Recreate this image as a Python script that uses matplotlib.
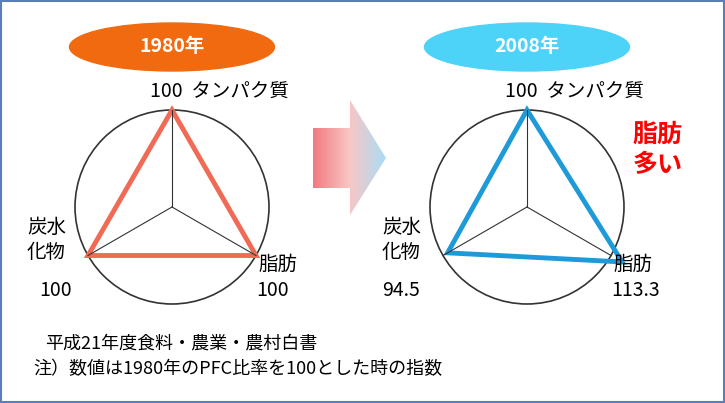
import numpy as np
import matplotlib
matplotlib.use("Agg")
import matplotlib.pyplot as plt
from matplotlib.patches import Ellipse, Circle, Polygon, Rectangle
from matplotlib.colors import LinearSegmentedColormap

plt.rcParams['font.family'] = ['Noto Sans CJK JP', 'DejaVu Sans']

axes_names = ["タンパク質", "脂肪", "炭水化物"]
values_1980 = [100, 100, 100]
values_2008 = [100, 113.3, 94.5]
years = ["1980年", "2008年"]

fig = plt.figure(figsize=(7.25, 4.03), dpi=100)
ax = fig.add_axes([0, 0, 1, 1])
ax.set_xlim(0, 725); ax.set_ylim(403, 0); ax.axis('off')
ax.add_patch(Rectangle((1, 1), 723, 401, fill=False, ec='#5B7DB8', lw=1.5))

R = 97
angles = np.deg2rad([90, -30, 210])

def radar(cx, cy, vals, color):
    ax.add_patch(Circle((cx, cy), R, fill=False, ec='#333333', lw=1.2))
    for a in angles:
        ax.plot([cx, cx + R*np.cos(a)], [cy, cy - R*np.sin(a)], color='#333333', lw=0.8)
    pts = [(cx + R*v/100*np.cos(a), cy - R*v/100*np.sin(a)) for v, a in zip(vals, angles)]
    ax.add_patch(Polygon(pts, closed=True, fill=False, ec=color, lw=3.5, joinstyle='miter'))

radar(172, 207, values_1980, '#F06A55')
radar(527, 207, values_2008, '#1E9AD8')

for cx, col, t in [(172, '#F26A10', years[0]), (527, '#4DD3F8', years[1])]:
    ax.add_patch(Ellipse((cx, 47), 205, 48, color=col))
    ax.text(cx, 47, t, color='white', fontsize=14, fontweight='bold', ha='center', va='center')

fs = 14
for cx, vals in [(172, values_1980), (527, values_2008)]:
    ax.text(cx - 22, 92, f"{vals[0]:g}  {axes_names[0]}", fontsize=fs, va='center', ha='left')
    ax.text(cx - 145, 240, "炭水\n化物", fontsize=fs, va='center', ha='left', linespacing=1.2)
    ax.text(cx - 133 if vals[2] == 100 else cx - 145, 291, f"{vals[2]:g}", fontsize=fs, va='center', ha='left')
    ax.text(cx + 86, 264, "脂肪", fontsize=fs, va='center', ha='left')
    ax.text(cx + 84, 291, f"{vals[1]:g}", fontsize=fs, va='center', ha='left')

ax.text(658, 150, "脂肪\n多い", color='#FF0000', fontsize=18, fontweight='bold', ha='center', va='center', linespacing=1.3)

arrow = Polygon([(313, 128), (350, 128), (350, 100), (386, 158), (350, 215), (350, 188), (313, 188)], closed=True, fc='none', ec='none')
ax.add_patch(arrow)
grad = np.linspace(0, 1, 256)[None, :]
cmap = LinearSegmentedColormap.from_list('g', ['#F27A80', '#F9C6C4', '#A9DDF5'])
im = ax.imshow(grad, extent=(313, 386, 215, 100), cmap=cmap, aspect='auto', zorder=1)
im.set_clip_path(arrow)

ax.text(45, 344, "平成21年度食料・農業・農村白書", fontsize=13, va='center')
ax.text(33, 369, "注）数値は1980年のPFC比率を100とした時の指数", fontsize=13, va='center')

fig.savefig("out.png", dpi=100)
